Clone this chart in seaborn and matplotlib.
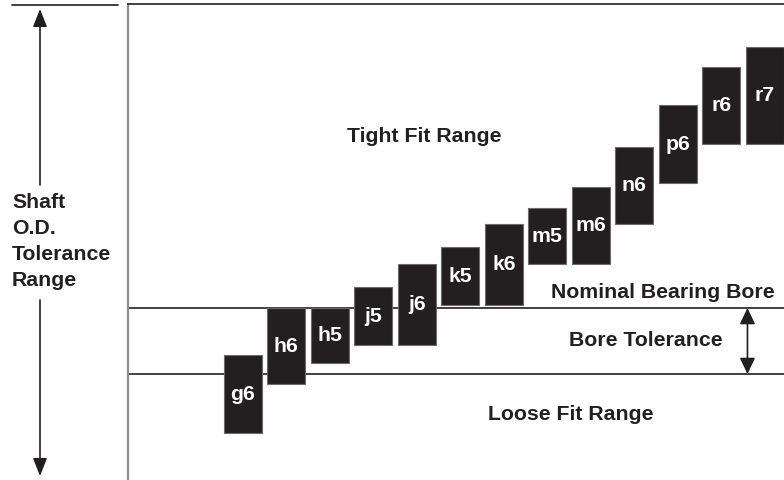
import numpy as np
import pandas as pd
import matplotlib
matplotlib.use("Agg")
import matplotlib.pyplot as plt
import seaborn as sns

# shaft tolerance classes, limits in arbitrary units relative to nominal bore (0)
fits = ["g6", "h6", "h5", "j5", "j6", "k5", "k6", "m5", "m6", "n6", "p6", "r6", "r7"]
upper = [-47, 0, 0, 21, 44, 61, 84, 100, 121, 161, 203, 241, 261]
lower = [-125, -76, -55, -37, -37, 3, 3, 44, 44, 84, 125, 164, 164]

bore_nominal = 0
bore_low = -66

zone_labels = ["Tight Fit Range", "Nominal Bearing Bore", "Bore Tolerance", "Loose Fit Range"]
zone_x = [4.16, 9.66, 9.27, 7.54]
zone_y = [172, 16, -33, -107]

side_label = ["Shaft", "O.D.", "Tolerance", "Range"]

ink = "#231f20"
fs = 15.3

sns.set_theme(style="white")
plt.rcParams["font.family"] = ["Liberation Sans", "DejaVu Sans"]

df = pd.DataFrame({"fit": fits, "upper": upper, "lower": lower})
df["height"] = df["upper"] - df["lower"]

fig = plt.figure(figsize=(7.84, 4.80), dpi=100)
ax = fig.add_axes([128 / 784, 0, 656 / 784, 476 / 480])

# bore limits
ax.axhline(bore_nominal, color=ink, lw=1.2, zorder=1)
ax.axhline(bore_low, color=ink, lw=1.2, zorder=1)

sns.barplot(data=df, x="fit", y="height", bottom=df["lower"].values, color=ink,
            saturation=1, width=0.874, edgecolor="#6d6a6b", linewidth=0.8,
            ax=ax, zorder=3)

for i, row in df.iterrows():
    ax.text(i, (row["upper"] + row["lower"]) / 2, row["fit"], color="white",
            fontsize=fs, fontweight="bold", ha="center", va="center", zorder=4)

for lab, x, y in zip(zone_labels, zone_x, zone_y):
    ax.text(x, y, lab, color=ink, fontsize=fs, fontweight="bold",
            ha="center", va="center")

# bore tolerance double arrow
ax.annotate("", xy=(11.6, bore_low), xytext=(11.6, bore_nominal),
            arrowprops=dict(arrowstyle="<|-|>,head_length=0.75,head_width=0.36",
                            color=ink, lw=1.2, shrinkA=0, shrinkB=0,
                            mutation_scale=13))

ax.set_xlim(-2.64, 12.44)
ax.set_ylim(-172, 304)
ax.set_xlabel("")
ax.set_ylabel("")
ax.set_xticks([])
ax.set_yticks([])
ax.spines["right"].set_visible(False)
ax.spines["bottom"].set_visible(False)
ax.spines["left"].set_color("#8c8c8c")
ax.spines["left"].set_linewidth(1.6)
ax.spines["top"].set_color(ink)
ax.spines["top"].set_linewidth(1.2)

# left side: shaft tolerance arrow and label
fig.add_artist(plt.Line2D([12 / 784, 118 / 784], [1 - 5 / 480, 1 - 5 / 480],
                          color=ink, lw=1.2))
arrow_kw = dict(arrowstyle="-|>,head_length=0.83,head_width=0.33", color=ink,
                lw=1.2, shrinkA=0, shrinkB=0)
fig.add_artist(matplotlib.patches.FancyArrowPatch(
    (40 / 784, 1 - 185 / 480), (40 / 784, 1 - 9 / 480),
    transform=fig.transFigure, mutation_scale=13, **arrow_kw))
fig.add_artist(matplotlib.patches.FancyArrowPatch(
    (40 / 784, 1 - 300 / 480), (40 / 784, 1 - 476 / 480),
    transform=fig.transFigure, mutation_scale=13, **arrow_kw))
for k, word in enumerate(side_label):
    fig.text(12 / 784, 1 - (202 + 26 * k) / 480, word, color=ink, fontsize=fs,
             fontweight="bold", ha="left", va="center")

fig.savefig("out.png", dpi=100)
plt.close(fig)
